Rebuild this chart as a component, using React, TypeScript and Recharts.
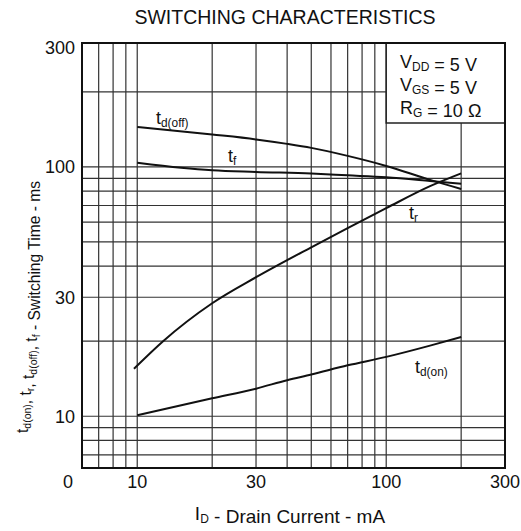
import { LineChart, Line, XAxis, YAxis, CartesianGrid, ReferenceArea } from 'recharts'

// axis ticks (labelled) and grid values, log-log
const xTicks = [6, 10, 30, 100, 300]
const xTickText = ['0', '10', '30', '100', '300']
const yTicks = [10, 30, 100, 300]
const xGrid = [7, 8, 9, 10, 20, 30, 40, 50, 60, 70, 80, 90, 100, 200]
const yGrid = [7, 8, 9, 10, 20, 30, 40, 50, 60, 70, 80, 90, 100, 200]

// I_D (mA) and switching times (ms)
const idOff = [10, 20, 30, 40, 50, 70, 100, 150, 200]
const tdOff = [144.7, 134.9, 128.9, 123.7, 119.2, 110.7, 100.9, 88.7, 81.6]
const idF = [10, 15, 20, 30, 50, 70, 100, 150, 200]
const tf = [104, 99.3, 97, 95.5, 94, 92.5, 90.9, 87.8, 85.5]
const idR = [9.7, 12.7, 20, 30, 50, 70, 100, 150, 200]
const tr = [15.5, 20, 28.4, 36.1, 47.6, 56.8, 68.3, 83.7, 94.2]
const idOn = [10, 20, 30, 40, 50, 70, 100, 150, 200]
const tdOn = [10.1, 11.8, 12.9, 13.95, 14.7, 16, 17.3, 19.2, 20.8]

const toPts = (xs: number[], ys: number[]) => xs.map((x, i) => ({ x, y: ys[i] }))

const FONT = '"Liberation Sans", Arial, sans-serif'

function XTick({ x, y, payload }: any) {
  const i = xTicks.indexOf(payload.value)
  const dx = payload.value === 6 ? -14 : 0
  return (
    <text x={x + dx} y={y} dy={12} textAnchor="middle" fontSize={18} fill="#111">
      {xTickText[i]}
    </text>
  )
}

function YTick({ x, y, payload }: any) {
  return (
    <text x={x + 1} y={y} dy={6.5} textAnchor="end" fontSize={18} fill="#111">
      {payload.value}
    </text>
  )
}

// t with a subscript, as svg text
function TSub({ x, y, s, size = 18 }: { x: number; y: number; s: string; size?: number }) {
  return (
    <text x={x} y={y} fontSize={size} fill="#111">
      t<tspan fontSize={size * 0.66} dy={3}>{s}</tspan>
    </text>
  )
}

export default function App() {
  const lineProps = {
    dataKey: 'y',
    stroke: '#111',
    strokeWidth: 2,
    dot: false,
    type: 'monotone' as const,
    isAnimationActive: false,
  }
  const sub = (s: string, fs = 12) => (
    <>
      <tspan fontSize={fs} dy={3}>{s}</tspan>
      <tspan dy={-3}></tspan>
    </>
  )
  return (
    <div style={{ position: 'absolute', left: 0, top: 0, width: 521, height: 531, background: '#fff', fontFamily: FONT }}>
      <LineChart width={521} height={531} margin={{ top: 43, right: 16, left: 22, bottom: 33 }}>
        <CartesianGrid
          stroke="#333"
          strokeWidth={1.2}
          horizontalValues={yGrid}
          verticalValues={xGrid}
        />
        <XAxis
          dataKey="x"
          type="number"
          scale="log"
          domain={[6, 300]}
          ticks={xTicks}
          interval={0}
          allowDataOverflow
          axisLine={false}
          tickLine={false}
          height={30}
          tick={<XTick />}
        />
        <YAxis
          type="number"
          scale="log"
          domain={[6.2, 314]}
          ticks={yTicks}
          interval={0}
          allowDataOverflow
          axisLine={false}
          tickLine={false}
          width={60}
          tick={<YTick />}
        />
        <ReferenceArea x1={100} x2={300} y1={150} y2={314} fill="#fff" fillOpacity={1} stroke="#222" strokeWidth={1.5} />
        <ReferenceArea x1={6} x2={300} y1={6.2} y2={314} fill="none" stroke="#111" strokeWidth={2} />
        <Line {...lineProps} data={toPts(idOff, tdOff)} />
        <Line {...lineProps} data={toPts(idF, tf)} />
        <Line {...lineProps} data={toPts(idR, tr)} />
        <Line {...lineProps} data={toPts(idOn, tdOn)} />
      </LineChart>

      <svg width={521} height={531} style={{ position: 'absolute', left: 0, top: 0, pointerEvents: 'none' }}>
        <text x={285} y={24} textAnchor="middle" fontSize={19.5} fill="#111">SWITCHING CHARACTERISTICS</text>

        <TSub x={156} y={124} s="d(off)" />
        <TSub x={228} y={162} s="f" />
        <TSub x={409} y={219} s="r" />
        <TSub x={415} y={373} s="d(on)" />

        <text x={400} y={68} fontSize={18} fill="#111">V{sub('DD')} = 5 V</text>
        <text x={400} y={91} fontSize={18} fill="#111">V{sub('GS')} = 5 V</text>
        <text x={400} y={114} fontSize={18} fill="#111">R{sub('G')} = 10 Ω</text>

        <text x={290} y={520} textAnchor="middle" fontSize={19} fill="#111">
          I{sub('D')} - Drain Current - mA
        </text>

        <text x={0} y={0} transform="translate(28 433) rotate(-90)" fontSize={15.6} fill="#111">
          t{sub('d(on)', 10.5)}, t{sub('r', 10.5)}, t{sub('d(off)', 10.5)}, t{sub('f', 10.5)} - Switching Time - ms
        </text>
      </svg>
    </div>
  )
}
